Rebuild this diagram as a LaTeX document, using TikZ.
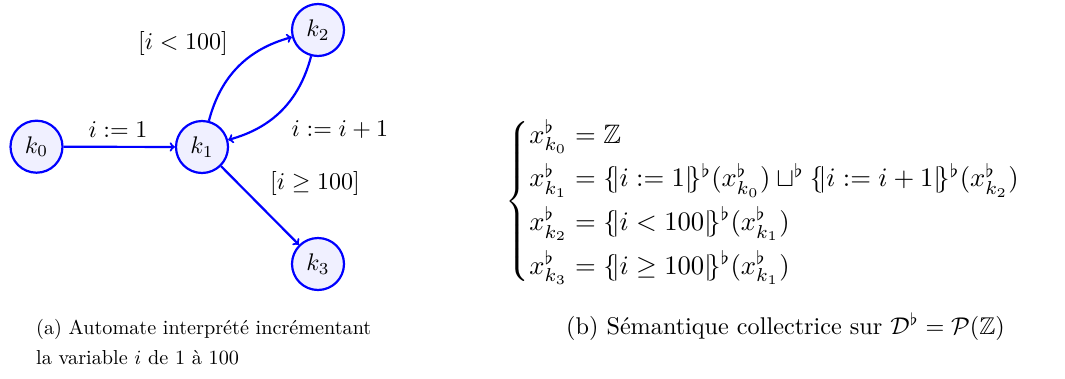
\documentclass[tikz,border=0pt]{standalone}
\usepackage{amsmath,amssymb}
\usetikzlibrary{arrows}
\newcommand{\sbr}[1]{\{\!|#1|\!\}}
\newcommand{\gs}[1]{\scalebox{2.4}{#1}}
\newcommand{\cs}[1]{\scalebox{2.02}{#1}}
\newcommand{\csb}[1]{\scalebox{2.42}{#1}}
\begin{document}
\begin{tikzpicture}[x=1pt,y=-1pt,
  state/.style={circle,draw=blue,fill=blue!6,line width=2.2pt,minimum size=52pt,inner sep=0pt},
  trans/.style={->,draw=blue,line width=2.2pt},
  lbl/.style={inner sep=0pt},
  captxt/.style={inner sep=0pt,anchor=base west}]
\useasboundingbox (0,0) rectangle (1065,378);
\node[state] (k0) at (36.5,146.7) {\gs{$k_0$}};
\node[state] (k1) at (202,147) {\gs{$k_1$}};
\node[state] (k2) at (318,30) {\gs{$k_2$}};
\node[state] (k3) at (318,264) {\gs{$k_3$}};
\draw[trans] (k0) -- (k1);
\draw[trans] (k1) to[bend left=30] (k2);
\draw[trans] (k2) to[bend left=30] (k1);
\draw[trans] (k1) -- (k3);
\node[lbl] (l01) at (118,130) {\gs{$i := 1$}};
\node[lbl] (l12) at (183,43) {\gs{$[i < 100]$}};
\node[lbl] (l21) at (340,130) {\gs{$i := i + 1$}};
\node[lbl] (l13) at (315,183) {\gs{$[i \geq 100]$}};
\node[lbl,anchor=west] (sys) at (505.5,201) {\resizebox{543pt}{!}{$\begin{cases}
x^\flat_{k_0} = \mathbb{Z}\\[2pt]
x^\flat_{k_1} = \sbr{i := 1}^\flat(x^\flat_{k_0}) \sqcup^\flat \sbr{i := i+1}^\flat(x^\flat_{k_2})\\[2pt]
x^\flat_{k_2} = \sbr{i < 100}^\flat(x^\flat_{k_1})\\[2pt]
x^\flat_{k_3} = \sbr{i \geq 100}^\flat(x^\flat_{k_1})
\end{cases}$}};
\node[captxt] (capa1) at (36,334.5) {\cs{(a) Automate interprété incrémentant}};
\node[captxt] (capa2) at (36,364.5) {\cs{la variable $i$ de 1 à 100}};
\node[captxt] (capb) at (566,334.5) {\csb{(b) Sémantique collectrice sur $\mathcal{D}^\flat = \mathcal{P}(\mathbb{Z})$}};
\end{tikzpicture}
\end{document}
